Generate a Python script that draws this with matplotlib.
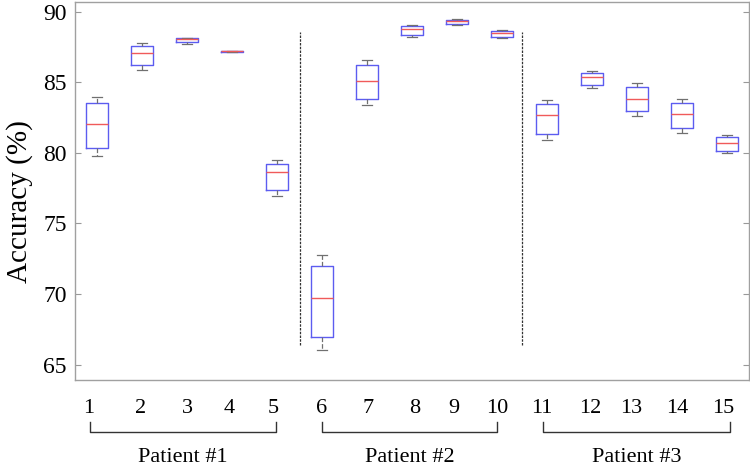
import numpy as np
import matplotlib
matplotlib.use("Agg")
import matplotlib.pyplot as plt
import matplotlib.transforms as mtransforms

# Box statistics per run
runs = list(range(1, 16))
whislo = [79.78, 85.92, 87.75, 87.18, 76.95, 66.04, 83.37, 88.23, 89.11, 88.14, 80.93, 84.62, 82.63, 81.43, 79.97]
q1 = [80.35, 86.22, 87.85, 87.19, 77.35, 66.94, 83.80, 88.35, 89.18, 88.23, 81.36, 84.81, 82.95, 81.76, 80.13]
med = [82.02, 87.08, 88.10, 87.20, 78.63, 69.75, 85.07, 88.80, 89.34, 88.51, 82.66, 85.40, 83.84, 82.73, 80.72]
q3 = [83.53, 87.62, 88.15, 87.21, 79.24, 72.00, 86.25, 89.01, 89.46, 88.65, 83.44, 85.68, 84.65, 83.58, 81.11]
whishi = [83.98, 87.81, 88.18, 87.22, 79.47, 72.75, 86.60, 89.11, 89.49, 88.75, 83.73, 85.80, 84.93, 83.82, 81.25]

run_labels = [str(r) for r in runs]
patients = ["Patient #1", "Patient #2", "Patient #3"]

plt.rcParams['font.family'] = ['Liberation Serif', 'DejaVu Serif']

fig = plt.figure(figsize=(7.5, 4.66), dpi=100)
ax = fig.add_axes([0.1, 0.1845, 0.8987, 0.811])

stats = []
for i in range(len(runs)):
    stats.append(dict(whislo=whislo[i], q1=q1[i], med=med[i], q3=q3[i], whishi=whishi[i], fliers=[]))

ax.bxp(stats, positions=runs, widths=0.49, capwidths=0.22, showfliers=False,
       boxprops=dict(color="#5c5cf0", linewidth=1.0),
       medianprops=dict(color="#f05a5a", linewidth=1.0),
       whiskerprops=dict(color="#707070", linewidth=0.9, linestyle="--"),
       capprops=dict(color="#707070", linewidth=0.9))

# separators between patients
for xs in [5.5, 10.45]:
    ax.plot([xs, xs], [66.4, 88.6], color="#333333", linestyle=(0, (2, 1)), linewidth=0.9)

ax.set_xlim(0.51, 15.49)
ax.set_ylim(63.9, 90.7)
ax.set_yticks([65, 70, 75, 80, 85, 90])
ax.tick_params(axis="y", direction="in", length=4, color="#999999", labelsize=17, right=True, pad=6)

# run labels sit slightly off the box centres in the original
label_x = [0.82, 1.96, 3.0, 3.93, 4.91, 6.0, 7.02, 8.07, 8.93, 9.89, 10.89, 11.96, 12.87, 13.89, 14.91]
ax.set_xticks(label_x)
ax.set_xticklabels(run_labels, fontsize=16)
ax.tick_params(axis="x", length=0, pad=14)

for sp in ax.spines.values():
    sp.set_color("#a0a0a0")
    sp.set_linewidth(1.0)

ax.set_ylabel("Accuracy (%)", fontsize=21)
ax.yaxis.set_label_coords(-0.063, 0.472)

# patient brackets below the axis
trans = mtransforms.blended_transform_factory(ax.transData, fig.transFigure)
brackets = [(0.84, 4.98), (6.0, 9.89), (10.91, 15.07)]
for (x0, x1), name in zip(brackets, patients):
    ax.plot([x0, x0, x1, x1], [0.095, 0.073, 0.073, 0.095], color="#333333",
            linewidth=1.0, transform=trans, clip_on=False)
    ax.text((x0 + x1) / 2, 0.018, name, transform=trans, ha="center", va="center", fontsize=16)

fig.savefig("out.png", dpi=100)
